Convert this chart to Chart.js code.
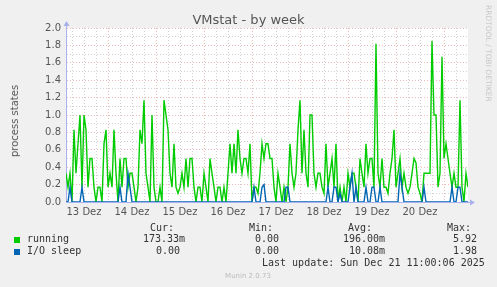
<!DOCTYPE html>
<html><head><meta charset="utf-8">
<script src="https://cdn.jsdelivr.net/npm/chart.js@4.4.1/dist/chart.umd.min.js"></script>
<style>
html,body{margin:0;padding:0;background:#f0f0f0;}
#wrap{position:relative;width:497px;height:287px;overflow:hidden;background:#f0f0f0;}
canvas{position:absolute;left:0;top:0;}
.m{position:absolute;white-space:pre;font-family:'DejaVu Sans Mono',monospace;font-size:10px;line-height:12px;color:#333;}
.sq{position:absolute;width:6px;height:6px;}
</style></head><body>
<div id="wrap">
<canvas id="c" width="497" height="287"></canvas>
<div style="position:absolute;left:0;top:12px;width:497px;text-align:center;font:13px 'DejaVu Sans';line-height:15px;color:#555;">VMstat - by week</div>
<div style="position:absolute;left:15px;top:121px;transform:translate(-50%,-50%) rotate(-90deg);white-space:nowrap;font:10px 'DejaVu Sans';line-height:12px;color:#555;">process states</div>
<div style="position:absolute;left:484px;top:5px;writing-mode:vertical-rl;white-space:nowrap;font:7.5px 'DejaVu Sans';line-height:9px;color:#c8c8c8;">RRDTOOL / TOBI OETIKER</div>
<div class="m" style="left:150px;top:222px;">Cur:</div>
<div class="m" style="left:249px;top:222px;">Min:</div>
<div class="m" style="left:348px;top:222px;">Avg:</div>
<div class="m" style="left:447px;top:222px;">Max:</div>
<div class="sq" style="left:14px;top:237px;background:#00cc00;"></div>
<div class="m" style="left:27px;top:233px;">running</div>
<div class="m" style="left:143px;top:233px;">173.33m</div>
<div class="m" style="left:255px;top:233px;">0.00</div>
<div class="m" style="left:343px;top:233px;">196.00m</div>
<div class="m" style="left:453px;top:233px;">5.92</div>
<div class="sq" style="left:14px;top:249px;background:#0066b3;"></div>
<div class="m" style="left:27px;top:245px;">I/O sleep</div>
<div class="m" style="left:156px;top:245px;">0.00</div>
<div class="m" style="left:255px;top:245px;">0.00</div>
<div class="m" style="left:349px;top:245px;">10.08m</div>
<div class="m" style="left:453px;top:245px;">1.98</div>
<div class="m" style="left:262px;top:257px;">Last update: Sun Dec 21 11:00:06 2025</div>
<div style="position:absolute;left:0;top:272px;width:496px;text-align:center;font:7px 'DejaVu Sans';line-height:9px;color:#bbbbbb;">Munin 2.0.73</div>
</div>
<script>
// hours counted from 13 Dez 00:00, one value per hour
const firstHour = 3;
const lastHour = 204;
const dayLabels = ['13 Dez','14 Dez','15 Dez','16 Dez','17 Dez','18 Dez','19 Dez','20 Dez'];
const yTicks = [0,0.1,0.2,0.3,0.4,0.5,0.6,0.7,0.8,0.9,1.0,1.1,1.2,1.3,1.4,1.5,1.6,1.7,1.8,1.9,2.0];
const running = [
  0.33,0.17,0.33,0,0.83,0.33,0.67,1.0,0.17,1.0,
  0.83,0.17,0.5,0.5,0.17,0,0.17,0.17,0,0.67,
  0.83,0.17,0.33,0.17,0.83,0.33,0,0.5,0.17,0.5,
  0.5,0.17,0.33,0.33,0.17,0,0.17,0.83,0.67,1.17,
  0.33,0.17,0,1.0,0.17,0,0,0.17,0,1.17,
  1.0,0.83,0.33,0.17,0.67,0.17,0.1,0.17,0.33,0.17,
  0.5,0.17,0.5,0.5,0.17,0,0.17,0.17,0,0.33,
  0.17,0,0.5,0.33,0.17,0,0.17,0.17,0,0.17,
  0,0.33,0.67,0.33,0.67,0.33,0.83,0.5,0.33,0.5,
  0.5,0.33,0.67,0,0.17,0.17,0.1,0.33,0.67,0.5,
  0.67,0.67,0.5,0.5,0.17,0,0.33,0.17,0,0.17,
  0,0.17,0.67,0.33,0.17,0.33,0.83,1.17,0.33,0.83,
  0.33,0.17,1.0,1.0,0.33,0.17,0.33,0.33,0.17,0.1,
  0.67,0.17,0.33,0.5,0.17,0.67,0,0.17,0,0.17,
  0,0.33,0.17,0.33,0.33,0.17,0,0.5,0.33,0.17,
  0.67,0.33,0.5,0.5,0.17,1.82,0.33,0.17,0.5,0.17,
  0.17,0.1,0.33,0.5,0.83,0.17,0.33,0.5,0.17,0.33,
  0.17,0.1,0.17,0.33,0.5,0.45,0.17,0.1,0,0.33,
  0.33,0.33,0.33,1.85,1.0,1.0,0.17,0.33,1.67,0.5,
  0.67,0.5,0.33,0.17,0.33,0.17,0.17,1.17,0.17,0,
  0.33,0.17
];
const ioSleep = [
  0,0,0.17,0,0,0,0,0,0.17,0,
  0,0,0,0,0,0,0,0,0,0,
  0,0,0,0,0,0,0,0.17,0,0,
  0,0.33,0.17,0,0,0,0,0,0,0,
  0,0,0,0,0,0,0,0,0,0,
  0,0,0,0,0,0,0,0,0,0,
  0,0,0,0,0,0,0,0,0,0,
  0,0,0,0,0,0,0,0,0,0,
  0,0,0,0,0,0,0,0,0,0,
  0,0,0,0,0.17,0,0,0,0.17,0.2,
  0,0,0,0,0,0,0,0,0,0,
  0.17,0.17,0,0,0,0,0,0,0,0,
  0,0,0,0,0,0,0,0,0,0,
  0,0.17,0,0,0.17,0.17,0,0.1,0,0,
  0,0,0.17,0.33,0,0.17,0,0,0,0,
  0.17,0,0,0.17,0.17,0,0,0.17,0,0,
  0,0,0,0,0,0,0,0.33,0.17,0,
  0,0,0,0,0,0,0,0,0,0.17,
  0,0,0,0,0,0,0,0,0,0,
  0,0,0,0.17,0,0,0.17,0.17,0,0,
  0,0
];

const majorColor = 'rgba(225,115,115,0.5)';
const minorColor = 'rgba(170,170,170,0.55)';
const axisColor = '#a9b0ee';

const toPoints = arr => arr.map((v, i) => ({x: firstHour + i, y: v}));

const bgPlugin = {
  id: 'bg',
  beforeDraw(chart) {
    const {ctx, chartArea: a} = chart;
    ctx.save();
    ctx.fillStyle = '#ffffff';
    ctx.fillRect(a.left, a.top, a.right - a.left, a.bottom - a.top);
    ctx.restore();
  },
  afterDraw(chart) {
    const {ctx, chartArea: a} = chart;
    ctx.save();
    ctx.strokeStyle = axisColor;
    ctx.fillStyle = axisColor;
    ctx.lineWidth = 1;
    ctx.beginPath();
    ctx.moveTo(a.left + 0.5, a.top); ctx.lineTo(a.left + 0.5, a.top - 3);
    ctx.moveTo(a.right, a.bottom + 0.5); ctx.lineTo(a.right + 3, a.bottom + 0.5);
    ctx.stroke();
    ctx.beginPath();
    ctx.moveTo(a.left - 2.5, a.top - 2); ctx.lineTo(a.left + 3.5, a.top - 2); ctx.lineTo(a.left + 0.5, a.top - 7); ctx.closePath();
    ctx.fill();
    ctx.beginPath();
    ctx.moveTo(a.right + 2, a.bottom - 2.5); ctx.lineTo(a.right + 2, a.bottom + 3.5); ctx.lineTo(a.right + 7, a.bottom + 0.5); ctx.closePath();
    ctx.fill();
    ctx.restore();
  }
};

Chart.defaults.font.family = "'DejaVu Sans', sans-serif";
Chart.defaults.font.size = 10;
Chart.defaults.color = '#555';

new Chart(document.getElementById('c'), {
  type: 'line',
  data: {
    datasets: [
      {label: 'running', data: toPoints(running), borderColor: '#00cc00', borderWidth: 1.4, pointRadius: 0, tension: 0, fill: false, order: 1},
      {label: 'I/O sleep', data: toPoints(ioSleep), borderColor: '#0066b3', borderWidth: 1.4, pointRadius: 0, tension: 0, fill: false, order: 0}
    ]
  },
  options: {
    responsive: false,
    devicePixelRatio: 1,
    animation: false,
    layout: {padding: {left: 0, top: 28, right: 29, bottom: 65}},
    plugins: {legend: {display: false}, tooltip: {enabled: false}, title: {display: false}},
    scales: {
      x: {
        type: 'linear', min: firstHour, max: lastHour,
        afterBuildTicks: ax => { const t = []; for (let h = 6; h < lastHour; h += 6) t.push({value: h}); ax.ticks = t; },
        afterFit: ax => { ax.height = 20; },
        ticks: {autoSkip: false, maxRotation: 0, padding: 4, color: '#555', font: {size: 10},
          callback: v => (v % 24 === 12) ? dayLabels[(v - 12) / 24] : ''},
        grid: {drawTicks: false, lineWidth: 1, color: c => (c.tick && c.tick.value % 24 === 0) ? majorColor : minorColor},
        border: {display: true, color: axisColor, width: 1, dash: [1, 2]}
      },
      y: {
        type: 'linear', min: 0, max: 2,
        afterBuildTicks: ax => { ax.ticks = yTicks.map(v => ({value: v})); },
        afterFit: ax => { ax.width = 66; },
        ticks: {autoSkip: false, padding: 5, color: '#555', font: {size: 10},
          callback: v => { const k = Math.round(v * 10); return k % 2 === 0 ? (k / 10).toFixed(1) : ''; }},
        grid: {drawTicks: false, lineWidth: 1, color: c => (c.tick && Math.round(c.tick.value * 10) % 2 === 0) ? majorColor : minorColor},
        border: {display: true, color: axisColor, width: 1, dash: [1, 2]}
      }
    }
  },
  plugins: [bgPlugin]
});
</script>
</body></html>
